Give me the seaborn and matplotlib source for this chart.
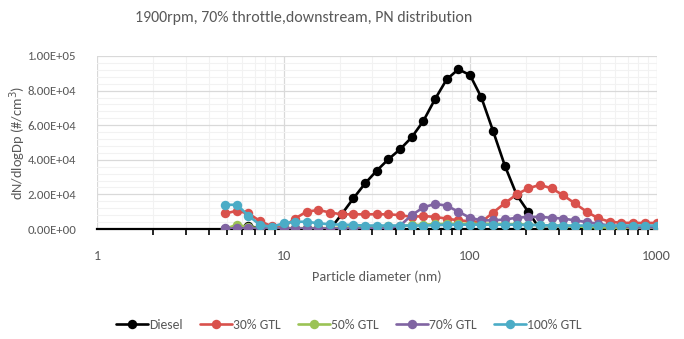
import numpy as np
import pandas as pd
import matplotlib
matplotlib.use("Agg")
import matplotlib.pyplot as plt
from matplotlib.ticker import FuncFormatter, FixedLocator, LogLocator, NullFormatter, MultipleLocator
import seaborn as sns

# Particle diameters (nm), 16 channels per decade
diameter_nm = [4.87, 5.62, 6.49, 7.50, 8.66, 10.0, 11.5, 13.3, 15.4, 17.8,
               20.5, 23.7, 27.4, 31.6, 36.5, 42.2, 48.7, 56.2, 64.9, 75.0,
               86.6, 100, 115, 133, 154, 178, 205, 237, 274, 316,
               365, 422, 487, 562, 649, 750, 866, 1000]

# dN/dlogDp (#/cm3) per fuel
diesel = [0, 1000, 2000, 0, 0, 0, 0, 0, 0, 0,
          8500, 17700, 26400, 33700, 40300, 46100, 53000, 62400, 75000, 86500,
          92300, 89000, 76100, 56600, 36400, 19700, 10000, 0, 0, 0,
          0, 0, 0, 0, 0, 0, 0, 0]
gtl_30 = [9000, 10500, 9000, 4500, 1500, 1000, 6000, 10000, 11000, 9500,
          8500, 8500, 8500, 8500, 8500, 8000, 7000, 7500, 7000, 6000,
          5000, 4500, 4000, 9500, 15000, 20000, 23500, 25500, 23500, 19500,
          14800, 10000, 6200, 4200, 3600, 3500, 3500, 3500]
gtl_50 = [0, 2500, 1000, 500, 500, 500, 500, 500, 500, 500,
          800, 1000, 1000, 1200, 1500, 1800, 2200, 2500, 2800, 3000,
          3000, 3000, 3000, 3000, 2800, 2800, 2500, 2200, 2000, 1800,
          1500, 1200, 1000, 800, 700, 600, 500, 500]
gtl_70 = [300, 300, 300, 300, 300, 300, 300, 300, 300, 300,
          300, 300, 300, 300, 300, 2000, 8000, 12500, 14500, 13500,
          10000, 6500, 5000, 5000, 5500, 6500, 7000, 7000, 6500, 6000,
          5000, 4000, 3000, 2000, 1500, 1000, 1000, 1000]
gtl_100 = [14000, 14000, 7700, 2300, 1300, 3300, 4200, 4200, 3300, 2700,
           2500, 2300, 2000, 2000, 2000, 2000, 2000, 2000, 2200, 2500,
           2500, 2500, 2500, 2500, 2500, 2500, 2300, 2300, 2000, 2000,
           2000, 2000, 2000, 2000, 2000, 2000, 2000, 2000]

series_names = ["Diesel", "30% GTL", "50% GTL", "70% GTL", "100% GTL"]
series_values = [diesel, gtl_30, gtl_50, gtl_70, gtl_100]
colors = ["#000000", "#D9514C", "#9BC355", "#8064A2", "#4BACC6"]

x_ticks = [1, 10, 100, 1000]
x_tick_labels = ["1", "10", "100", "1000"]

df = pd.concat(
    [pd.DataFrame({"Dp": diameter_nm, "dN": vals, "Fuel": name})
     for name, vals in zip(series_names, series_values)],
    ignore_index=True,
)

sns.set_theme(style="white")
plt.rcParams["font.family"] = ["Carlito", "Lato", "DejaVu Sans"]
text_grey = "#595959"

fig = plt.figure(figsize=(6.84, 3.39), dpi=100)
ax = fig.add_axes([97 / 684, 1 - 229 / 339, (656.5 - 97) / 684, (229 - 56) / 339])

sns.lineplot(
    data=df, x="Dp", y="dN", hue="Fuel", hue_order=series_names,
    palette=dict(zip(series_names, colors)), marker="o", markersize=6.8,
    markeredgewidth=0, linewidth=1.9, sort=False, ax=ax, legend=True,
)

ax.set_xscale("log")
ax.set_xlim(1, 1000)
ax.set_ylim(0, 100000)

ax.xaxis.set_major_locator(FixedLocator(x_ticks))
ax.set_xticklabels(x_tick_labels)
ax.xaxis.set_minor_locator(LogLocator(base=10, subs=np.arange(2, 10)))
ax.xaxis.set_minor_formatter(NullFormatter())
ax.yaxis.set_major_locator(MultipleLocator(20000))
ax.yaxis.set_minor_locator(MultipleLocator(4000))
ax.yaxis.set_major_formatter(FuncFormatter(lambda v, p: f"{v:.2E}"))

ax.grid(True, which="major", color="#D9D9D9", linewidth=0.9)
ax.grid(True, which="minor", color="#F2F2F2", linewidth=0.8)
ax.set_axisbelow(True)

for side in ["top", "right", "left"]:
    ax.spines[side].set_visible(False)
ax.spines["bottom"].set_color("#000000")
ax.spines["bottom"].set_linewidth(1.6)
ax.spines["bottom"].set_zorder(1)

ax.tick_params(axis="x", which="major", bottom=False, labelsize=10.2,
               labelcolor=text_grey, pad=9)
ax.tick_params(axis="x", which="minor", bottom=True, length=4, width=1.2,
               color="#000000", direction="out")
ax.tick_params(axis="y", which="both", left=False, labelsize=9.2,
               labelcolor=text_grey, pad=9)

ax.set_xlabel("Particle diameter (nm)", fontsize=10.2, color=text_grey, labelpad=6)
ax.set_ylabel("dN/dlogDp (#/cm$^3$)", fontsize=10.4, color=text_grey, va="center")
ax.yaxis.set_label_coords((18 - 97) / 559.5, 0.5)

fig.text(135 / 684, 1 - 18 / 339, "1900rpm, 70% throttle,downstream, PN distribution",
         fontsize=11.4, color=text_grey, ha="left", va="center")

handles, labels = ax.get_legend_handles_labels()
ax.legend_.remove()
fig.legend(handles, labels, loc="center", bbox_to_anchor=(0.51, 1 - 325 / 339),
           ncol=5, frameon=False, fontsize=9.8, handlelength=2.35,
           handletextpad=0.05, columnspacing=1.3, labelcolor=text_grey)

fig.savefig("out.png", dpi=100)
